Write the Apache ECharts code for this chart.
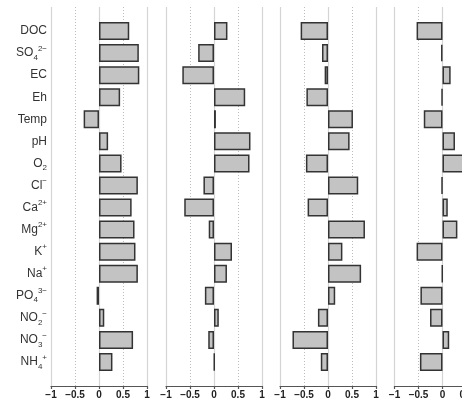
<!DOCTYPE html>
<html>
<head>
<meta charset="utf-8">
<script src="https://cdn.jsdelivr.net/npm/echarts@6/dist/echarts.min.js"></script>
<style>
  html, body { margin: 0; padding: 0; background: #fff; overflow: hidden; }
  #chart { width: 500px; height: 402px; }
</style>
</head>
<body>
<div id="chart"></div>
<script>
// categories, top to bottom
const categories = ['DOC', 'SO4', 'EC', 'Eh', 'Temp', 'pH', 'O2', 'Cl', 'Ca', 'Mg', 'K', 'Na', 'PO4', 'NO2', 'NO3', 'NH4'];
const categoryLabels = [
  'DOC', 'SO{sub|4}{sup|2\u2212}', 'EC', 'Eh', 'Temp', 'pH', 'O{sub|2}', 'Cl{sup|\u2212}',
  'Ca{sup|2+}', 'Mg{sup|2+}', 'K{sup|+}', 'Na{sup|+}', 'PO{sub|4}{sup|3\u2212}',
  'NO{sub|2}{sup|\u2212}', 'NO{sub|3}{sup|\u2212}', 'NH{sub|4}{sup|+}'
];

// one array per panel
const panel1 = [0.63, 0.83, 0.84, 0.44, -0.32, 0.19, 0.47, 0.81, 0.68, 0.74, 0.76, 0.81, -0.05, 0.11, 0.71, 0.28];
const panel2 = [0.28, -0.33, -0.66, 0.65, 0.04, 0.76, 0.74, -0.22, -0.62, -0.11, 0.375, 0.27, -0.19, 0.10, -0.12, 0.01];
const panel3 = [-0.57, -0.125, -0.07, -0.45, 0.52, 0.45, -0.46, 0.63, -0.425, 0.77, 0.30, 0.69, 0.15, -0.21, -0.74, -0.15];
const panel4 = [-0.54, -0.03, 0.17, -0.02, -0.39, 0.26, 0.55, -0.02, 0.11, 0.31, -0.54, -0.01, -0.46, -0.26, 0.14, -0.47];
const panels = [panel1, panel2, panel3, panel4];

// the page is wider than the window, so the last panel runs off the right edge
const panelLeft = [51, 166, 280, 394.5];
const panelWidth = 96;

const chart = echarts.init(document.getElementById('chart'), null, { renderer: 'canvas' });

const grids = [], xAxes = [], yAxes = [], series = [];
const font = 'Liberation Sans, Arial, sans-serif';

panels.forEach((values, i) => {
  const frameGrid = grids.length;
  grids.push({ left: panelLeft[i], width: panelWidth, top: 7, height: 379 });
  const barGrid = grids.length;
  grids.push({ left: panelLeft[i], width: panelWidth, top: 20, height: 353 });

  // frame: solid lines at -1, 0, 1
  xAxes.push({
    gridIndex: frameGrid, type: 'value', min: -1, max: 1, interval: 1,
    axisLine: { show: false }, axisTick: { show: false }, axisLabel: { show: false },
    splitLine: { show: true, lineStyle: { color: '#d4d4d4', width: 1.2 } }
  });
  // frame: dotted lines at -0.5, 0.5 plus the bottom axis
  xAxes.push({
    gridIndex: frameGrid, type: 'value', min: -1, max: 1, interval: 0.5,
    position: 'bottom',
    axisLine: { show: true, lineStyle: { color: '#555', width: 1.2 } },
    axisTick: { show: true, length: 3, lineStyle: { color: '#555', width: 1.2 } },
    axisLabel: {
      show: true, margin: 4, color: '#222', fontSize: 10, fontWeight: 'bold',
      fontFamily: font, showMinLabel: true, showMaxLabel: true,
      formatter: v => (v < 0 ? '\u2212' + Math.abs(v) : String(v))
    },
    splitLine: { show: true, lineStyle: { color: ['rgba(0,0,0,0)', '#bdbdbd'], type: [1, 2], width: 1 } }
  });
  yAxes.push({ gridIndex: frameGrid, type: 'value', show: false, min: 0, max: 1 });

  const barX = xAxes.length;
  xAxes.push({ gridIndex: barGrid, type: 'value', min: -1, max: 1, show: false });
  const barY = yAxes.length;
  yAxes.push({
    gridIndex: barGrid, type: 'category', data: categories, inverse: true,
    axisLine: { show: false }, axisTick: { show: false }, splitLine: { show: false },
    axisLabel: {
      show: i === 0, margin: 4, color: '#333', fontSize: 12, lineHeight: 17,
      fontFamily: font,
      formatter: (v, idx) => categoryLabels[idx],
      rich: {
        sub: { fontSize: 8, verticalAlign: 'bottom', lineHeight: 9, color: '#333', fontFamily: font },
        sup: { fontSize: 8, verticalAlign: 'top', lineHeight: 9, color: '#333', fontFamily: font }
      }
    }
  });

  series.push({
    type: 'bar', xAxisIndex: barX, yAxisIndex: barY, data: values,
    barWidth: 18,
    itemStyle: { color: '#c3c3c3', borderColor: '#333', borderWidth: 1.5 },
    silent: true
  });
});

chart.setOption({
  backgroundColor: '#fff',
  animation: false,
  grid: grids,
  xAxis: xAxes,
  yAxis: yAxes,
  series: series
});
</script>
</body>
</html>
